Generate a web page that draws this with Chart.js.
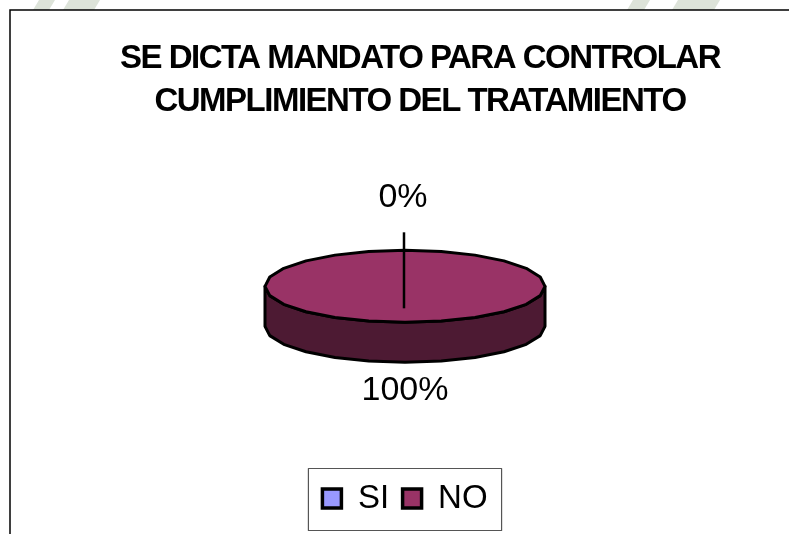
<!DOCTYPE html>
<html><head><meta charset="utf-8">
<style>html,body{margin:0;padding:0;background:#fff;overflow:hidden}
#w{position:relative;width:789px;height:534px}
canvas{position:absolute;left:0;top:0}</style>
<script src="https://cdn.jsdelivr.net/npm/chart.js@4"></script></head>
<body><div id="w"><canvas id="c" width="789" height="534"></canvas></div>
<script>
const categories = ["SI", "NO"];
const seriesValues = [0, 100];
const valueLabels = ["0%", "100%"];
const titleLines = ["SE DICTA MANDATO PARA CONTROLAR", "CUMPLIMIENTO DEL TRATAMIENTO"];
const sliceColors = ["#9999ff", "#993366"];
const sideColor = "#4d1a33";

const SQUASH = 36 / 140, DEPTH = 40, FACETS = 24;
function topPath(ctx, a) {
  ctx.beginPath();
  for (let i = 0; i < FACETS; i++) {
    const t = i / FACETS * Math.PI * 2;
    const x = a.x + a.outerRadius * Math.cos(t), y = a.y + a.outerRadius * SQUASH * Math.sin(t);
    i ? ctx.lineTo(x, y) : ctx.moveTo(x, y);
  }
  ctx.closePath();
}
function sidePath(ctx, a) {
  ctx.beginPath();
  const n = FACETS / 2;
  for (let i = 0; i <= n; i++) {
    const t = i / n * Math.PI;
    const x = a.x + a.outerRadius * Math.cos(t), y = a.y + a.outerRadius * SQUASH * Math.sin(t) + DEPTH;
    i ? ctx.lineTo(x, y) : ctx.moveTo(x, y);
  }
  for (let i = n; i >= 0; i--) {
    const t = i / n * Math.PI;
    ctx.lineTo(a.x + a.outerRadius * Math.cos(t), a.y + a.outerRadius * SQUASH * Math.sin(t));
  }
  ctx.closePath();
}
const frame = {
  id: "frame",
  afterLayout(chart) {
    const t = chart.titleBlock;
    t.left += 30;
    if (!t._wrapped) {
      const d = t.draw.bind(t);
      t.draw = function () {
        chart.ctx.letterSpacing = "-1.5px";
        d();
        chart.ctx.letterSpacing = "0px";
      };
      t._wrapped = true;
    }
  },
  beforeDraw(chart) {
    const c = chart.ctx;
    c.save();
    c.fillStyle = "#fff"; c.fillRect(0, 0, 789, 534);
    c.fillStyle = "#dde3d9";
    [[33, 55], [63, 100], [627, 650], [672, 720]].forEach(([x0, x1]) => {
      c.beginPath(); c.moveTo(x0 + 6, 0); c.lineTo(x1, 0); c.lineTo(x1 - 6, 10); c.lineTo(x0, 10); c.closePath(); c.fill();
    });
    c.fillStyle = "#fff"; c.fillRect(10, 10, 779, 524);
    c.strokeStyle = "#000"; c.lineWidth = 1.5;
    c.beginPath(); c.moveTo(10, 534); c.lineTo(10, 10); c.lineTo(789, 10); c.stroke();
    c.restore();
  },
  beforeDatasetsDraw(chart) {
    const c = chart.ctx, a = chart.getDatasetMeta(0).data[1];
    c.save();
    sidePath(c, a);
    c.fillStyle = sideColor; c.fill();
    c.strokeStyle = "#000"; c.lineWidth = 3; c.lineJoin = "round"; c.stroke();
    c.restore();
    c.save();
    c.translate(a.x, a.y); c.scale(1, SQUASH); c.translate(-a.x, -a.y);
  },
  afterDatasetsDraw(chart) {
    const c = chart.ctx, meta = chart.getDatasetMeta(0), a = meta.data[1];
    c.restore();
    c.save();
    topPath(c, a);
    c.strokeStyle = "#000"; c.lineWidth = 3; c.lineJoin = "round"; c.stroke();
    c.lineWidth = 2.5;
    c.beginPath();
    c.moveTo(a.x - 1, a.y + 22); c.lineTo(a.x - 1, a.y - 54); c.stroke();
    c.fillStyle = "#000"; c.textAlign = "center"; c.textBaseline = "middle";
    c.font = "34px 'Liberation Sans'";
    c.fillText(valueLabels[0], a.x - 2, a.y - 89);
    c.fillText(valueLabels[1], a.x, a.y + 104);
    const l = chart.legend, h = l.legendHitBoxes, last = h[h.length - 1];
    c.strokeStyle = "#555"; c.lineWidth = 1.2;
    c.strokeRect(h[0].left - 14, l.top, last.left + last.width + 14 - (h[0].left - 14), 62);
    c.restore();
  }
};
new Chart(document.getElementById("c"), {
  type: "pie",
  data: { labels: categories, datasets: [{ data: seriesValues, backgroundColor: sliceColors, borderWidth: 0, radius: 140 }] },
  options: {
    responsive: false, animation: false, events: [],
    layout: { padding: { top: 37, bottom: 9, left: 21, right: 0 } },
    plugins: {
      tooltip: { enabled: false },
      title: { display: true, text: titleLines, color: "#000", padding: { top: 0, bottom: -20 },
        font: { family: "'Liberation Sans'", size: 33, weight: "bold", lineHeight: 1.32 } },
      legend: { position: "bottom",
        labels: { color: "#000", boxWidth: 19, boxHeight: 19, padding: 13.5, font: { family: "'Liberation Sans'", size: 33 },
          generateLabels() { return categories.map((t, i) => ({ text: t, fillStyle: sliceColors[i], strokeStyle: "#000", lineWidth: 3.5, index: i })); } } }
    }
  },
  plugins: [frame]
});
</script></body></html>
